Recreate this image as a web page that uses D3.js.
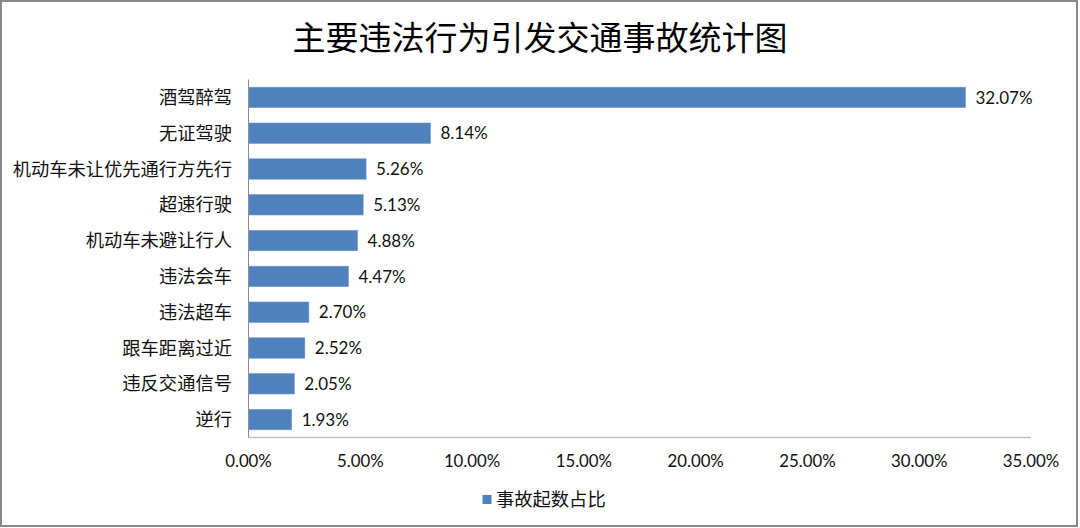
<!DOCTYPE html>
<html><head><meta charset="utf-8">
<script src="https://cdn.jsdelivr.net/npm/d3@7/dist/d3.min.js"></script>
<style>
body{margin:0;background:#fff;}
svg{display:block;}
</style></head>
<body>
<svg id="chart" width="1080" height="528"></svg>
<script>
const title = "主要违法行为引发交通事故统计图";
const categories = ["酒驾醉驾","无证驾驶","机动车未让优先通行方先行","超速行驶","机动车未避让行人","违法会车","违法超车","跟车距离过近","违反交通信号","逆行"];
const values = [32.07, 8.14, 5.26, 5.13, 4.88, 4.47, 2.70, 2.52, 2.05, 1.93];
const xTicks = [0, 5, 10, 15, 20, 25, 30, 35];
const seriesName = "事故起数占比";

const svg = d3.select("#chart");
const cjk = "'Noto Sans CJK SC', 'Noto Sans', sans-serif";
const num = "Lato, 'Open Sans', sans-serif";

svg.append("rect").attr("x",1).attr("y",1).attr("width",1076).attr("height",525)
  .attr("fill","#fff").attr("stroke","#888").attr("stroke-width",2);

svg.append("text").attr("x",540).attr("y",50).attr("text-anchor","middle")
  .attr("font-family",cjk).attr("font-size",33).attr("fill","#000").text(title);

const pLeft = 248.5, pRight = 1031, pTop = 79.5, pBottom = 437.5;
const x = d3.scaleLinear().domain([0,35]).range([pLeft,pRight]);
const y = d3.scaleBand().domain(categories).range([pTop,pBottom]).paddingInner(0.43).paddingOuter(0.215);

svg.append("line").attr("x1",pLeft).attr("x2",pRight).attr("y1",pBottom).attr("y2",pBottom)
  .attr("stroke","#bfbfbf").attr("stroke-width",1.5);
svg.append("line").attr("x1",pLeft).attr("x2",pLeft).attr("y1",pTop).attr("y2",pBottom)
  .attr("stroke","#8c8c8c").attr("stroke-width",1);

svg.append("g").selectAll("rect").data(values).join("rect")
  .attr("x",pLeft+0.5).attr("y",(d,i)=>y(categories[i]))
  .attr("width",d=>x(d)-pLeft-0.5).attr("height",y.bandwidth())
  .attr("fill","#4F81BD").attr("stroke","#6f97cc").attr("stroke-width",0.6);

svg.append("g").selectAll("text").data(values).join("text")
  .attr("x",d=>x(d)+10).attr("y",(d,i)=>y(categories[i])+y.bandwidth()/2)
  .attr("dy","0.36em").attr("font-family",num).attr("font-size",17).attr("fill","#111")
  .text(d=>d.toFixed(2)+"%");

svg.append("g").selectAll("text").data(categories).join("text")
  .attr("x",232).attr("y",d=>y(d)+y.bandwidth()/2).attr("dy","0.36em")
  .attr("text-anchor","end").attr("font-family",cjk).attr("font-size",18.3).attr("fill","#111")
  .text(d=>d);

svg.append("g").selectAll("text").data(xTicks).join("text")
  .attr("x",d=>x(d)).attr("y",461).attr("dy","0.36em").attr("text-anchor","middle")
  .attr("font-family",num).attr("font-size",16.8).attr("fill","#111")
  .text(d=>d.toFixed(2)+"%");

svg.append("rect").attr("x",482.5).attr("y",495).attr("width",9).attr("height",9).attr("fill","#4F81BD");
svg.append("text").attr("x",496).attr("y",499.5).attr("dy","0.36em")
  .attr("font-family",cjk).attr("font-size",18.3).attr("fill","#111").text(seriesName);
</script>
</body></html>
